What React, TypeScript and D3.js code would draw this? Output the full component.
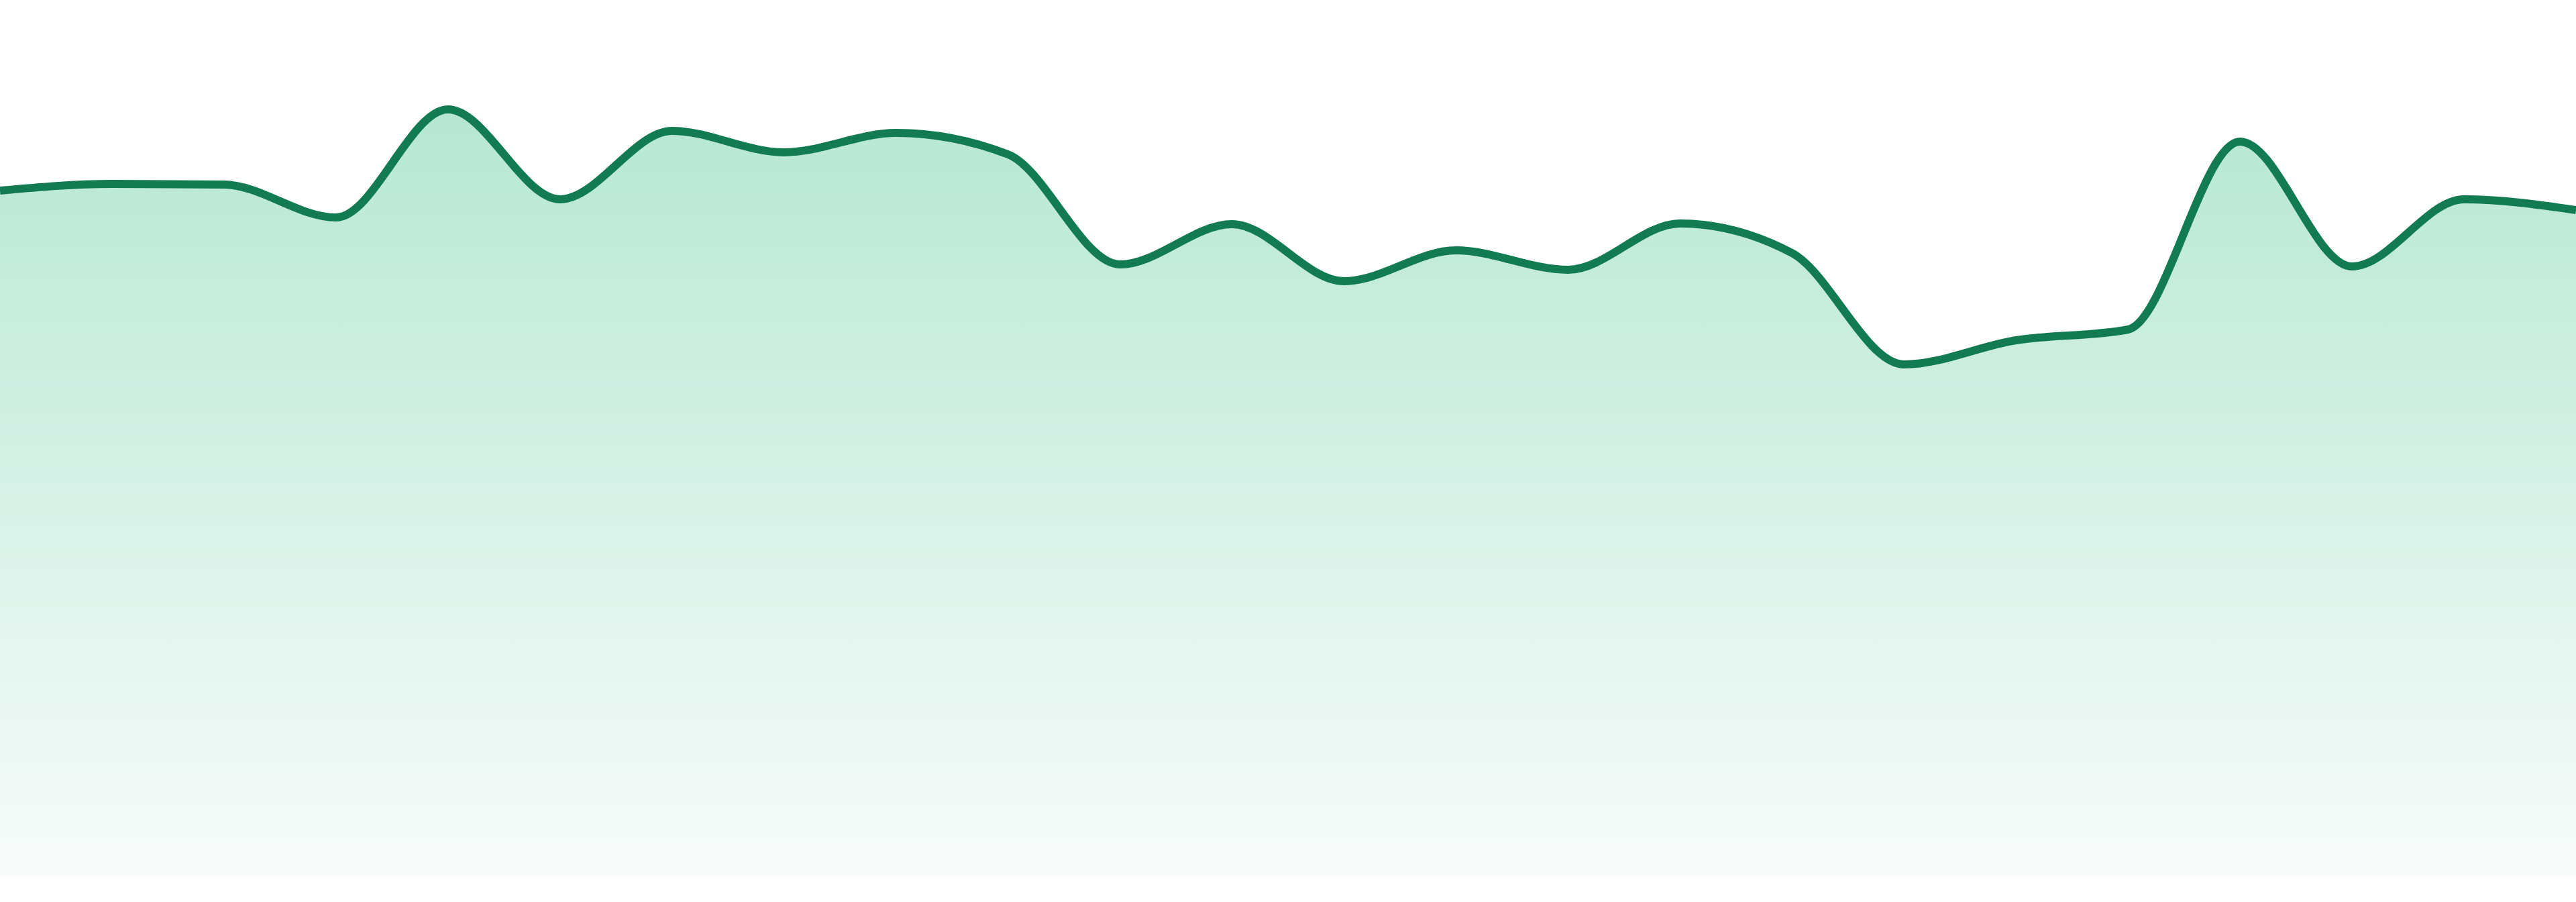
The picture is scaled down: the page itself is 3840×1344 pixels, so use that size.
import * as d3 from "d3";
import {useEffect, useRef} from "react";

// index of each sample along the x axis
const steps: number[] = [0, 1, 2, 3, 4, 5, 6, 7, 8, 9, 10, 11, 12, 13, 14, 15, 16, 17, 18, 19, 20, 21, 22, 23];
// series values
const values: number[] = [
    102.1, 103.1, 103.0, 98.1, 114.2, 100.8, 111.0, 107.8, 110.7, 107.5, 91.1, 97.1,
    88.6, 93.2, 90.3, 97.2, 92.8, 76.2, 79.8, 81.4, 109.4, 90.8, 100.8, 99.2,
];

const width = 3840;
const height = 1344;

const AreaChart = () => {
    const svgRef = useRef(null);

    useEffect(() => {
        if (!svgRef.current) return;

        d3.select(svgRef.current).selectAll("*").remove();

        const margin = {top: 5, right: 0, bottom: 39, left: 0};
        const innerWidth = width - margin.left - margin.right;
        const innerHeight = height - margin.top - margin.bottom;

        const data = steps.map((s, i) => ({x: s, y: values[i]}));

        const xScale = d3
            .scaleLinear()
            .domain(d3.extent(steps) as [number, number])
            .range([0, innerWidth]);

        const yScale = d3
            .scaleLinear()
            .domain([0, 130])
            .range([innerHeight, 0]);

        const svg = d3
            .select(svgRef.current)
            .attr("width", width)
            .attr("height", height);

        // vertical fade for the area
        const defs = svg.append("defs");
        const grad = defs
            .append("linearGradient")
            .attr("id", "areaFade")
            .attr("x1", 0)
            .attr("y1", 0)
            .attr("x2", 0)
            .attr("y2", 1);
        grad.append("stop").attr("offset", "0%").attr("stop-color", "#b6e7d4");
        grad.append("stop").attr("offset", "100%").attr("stop-color", "#f8fcfa");

        const g = svg
            .append("g")
            .attr("transform", `translate(${margin.left},${margin.top})`);

        const area = d3
            .area<{x: number; y: number}>()
            .x(d => xScale(d.x))
            .y0(innerHeight)
            .y1(d => yScale(d.y))
            .curve(d3.curveMonotoneX);

        const line = d3
            .line<{x: number; y: number}>()
            .x(d => xScale(d.x))
            .y(d => yScale(d.y))
            .curve(d3.curveMonotoneX);

        g.append("path")
            .datum(data)
            .attr("fill", "url(#areaFade)")
            .attr("d", area);

        g.append("path")
            .datum(data)
            .attr("fill", "none")
            .attr("stroke", "#127b52")
            .attr("stroke-width", 12)
            .attr("stroke-linejoin", "round")
            .attr("d", line);
    }, []);

    return <svg ref={svgRef} style={{position: "absolute", left: 0, top: 0, display: "block"}}></svg>;
};

export default function App() {
    return <AreaChart/>;
}
